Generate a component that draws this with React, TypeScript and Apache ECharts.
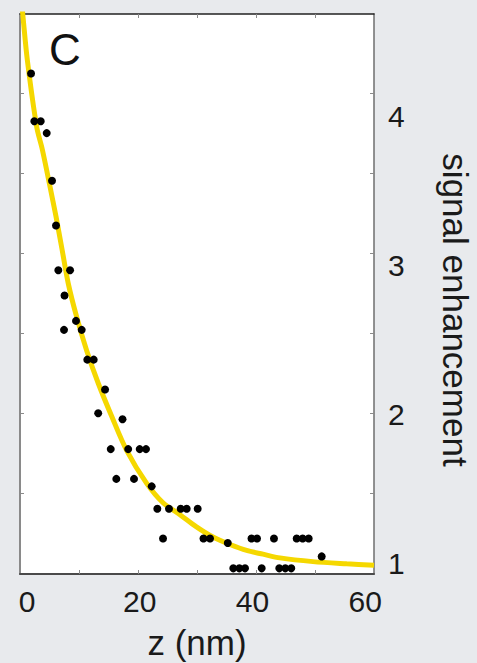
import React, { useEffect, useRef } from "react";
import * as echarts from "echarts";

// Scatter measurements: depth z (nm) and signal enhancement
const pointZ = [
  0.71, 1.29, 2.43, 3.49, 4.43, 5.14, 5.55, 7.63, 6.65, 8.69, 6.56, 9.7,
  10.7, 11.83, 13.84, 12.63, 16.94, 14.85, 17.95, 19.99, 21.11, 15.84, 18.98,
  22.12, 23.12, 25.19, 27.27, 28.33, 30.28, 24.13, 31.31, 32.47, 35.62, 36.6,
  37.67, 38.68, 39.83, 40.81, 41.64, 43.82, 44.76, 45.83, 46.89, 47.85, 48.91,
  49.98, 52.29,
];
const pointSignal = [
  4.29, 3.97, 3.97, 3.89, 3.57, 3.27, 2.97, 2.97, 2.8, 2.63, 2.57, 2.57,
  2.37, 2.37, 2.17, 2.01, 1.97, 1.77, 1.77, 1.77, 1.77, 1.57, 1.57,
  1.52, 1.37, 1.37, 1.37, 1.37, 1.37, 1.17, 1.17, 1.17, 1.14, 0.97,
  0.97, 0.97, 1.17, 1.17, 0.97, 1.17, 0.97, 0.97, 0.97, 1.17, 1.17,
  1.17, 1.05,
];

// Fitted curve
const fitZ = [
  -1.25, -0.77, 0.05, 1.72, 2.71, 4.08, 5.14, 6.21, 7.32, 8.78, 10.59, 12.65,
  15.02, 17.69, 21.23, 24.13, 27.14, 30.0, 33.0, 36.02, 38.98, 41.87, 44.89,
  50.74, 56.72, 61.57,
];
const fitSignal = [
  4.87, 4.69, 4.38, 3.93, 3.78, 3.53, 3.33, 3.11, 2.88, 2.66, 2.43, 2.21,
  1.99, 1.76, 1.54, 1.41, 1.33, 1.25, 1.18, 1.13, 1.09, 1.065, 1.04,
  1.015, 1.0, 0.99,
];

const xTickLabels = [0, 20, 40, 60];
const yTickLabels = [1, 2, 3, 4];
const xTickMarks = [9.22, 19.69, 30.15, 40.62, 51.1];
const yTickMarks = [1.476, 2.012, 2.549, 3.085, 3.622, 4.158];

const panelLabel = "C";
const xName = "z (nm)";
const yName = "signal enhancement";

const X_MIN = -1.25;
const X_MAX = 61.57;
const Y_MIN = 0.932;
const Y_MAX = 4.689;

const FONT = "'Liberation Sans', Arial, Helvetica, sans-serif";

export default function App() {
  const ref = useRef<HTMLDivElement>(null);

  useEffect(() => {
    if (!ref.current) return;
    const chart = echarts.init(ref.current, undefined, { renderer: "svg" });

    const points = pointZ.map((z, i) => [z, pointSignal[i]]);
    const fit = fitZ.map((z, i) => [z, fitSignal[i]]);

    const tickStyle = { color: "#8a8a8a", width: 1 };

    chart.setOption({
      animation: false,
      backgroundColor: "#e8eaed",
      grid: {
        left: 20,
        right: 103,
        top: 14,
        bottom: 89,
        show: true,
        backgroundColor: "#ffffff",
        borderWidth: 0,
        containLabel: false,
        outerBoundsMode: "none",
      },
      xAxis: [
        {
          type: "value",
          position: "bottom",
          min: X_MIN,
          max: X_MAX,
          axisLine: { show: true, onZero: false, lineStyle: { color: "#4a4a4a", width: 2 } },
          axisTick: { show: true, inside: true, length: 4, customValues: xTickMarks, lineStyle: tickStyle },
          axisLabel: {
            show: true,
            customValues: xTickLabels,
            fontSize: 30,
            color: "#1a1a1a",
            margin: 12,
            fontFamily: FONT,
          },
          splitLine: { show: false },
          name: xName,
          nameLocation: "middle",
          nameGap: 51,
          nameTextStyle: { fontSize: 35, color: "#1a1a1a", fontFamily: FONT },
        },
        {
          type: "value",
          position: "top",
          min: X_MIN,
          max: X_MAX,
          axisLine: { show: true, onZero: false, lineStyle: { color: "#222222", width: 1.5 } },
          axisTick: { show: true, inside: true, length: 4, customValues: xTickMarks, lineStyle: tickStyle },
          axisLabel: { show: false },
          splitLine: { show: false },
        },
      ],
      yAxis: [
        {
          type: "value",
          position: "right",
          min: Y_MIN,
          max: Y_MAX,
          axisLine: { show: true, onZero: false, lineStyle: { color: "#6e6e6e", width: 1.5 } },
          axisTick: { show: true, inside: true, length: 4, customValues: yTickMarks, lineStyle: tickStyle },
          axisLabel: {
            show: true,
            customValues: yTickLabels,
            fontSize: 30,
            color: "#1a1a1a",
            margin: 14,
            fontFamily: FONT,
          },
          splitLine: { show: false },
          name: yName,
          nameLocation: "middle",
          nameRotate: -90,
          nameGap: 64,
          nameTextStyle: { fontSize: 35, color: "#1a1a1a", fontFamily: FONT, padding: [0, 0, 0, 32] },
        },
        {
          type: "value",
          position: "left",
          min: Y_MIN,
          max: Y_MAX,
          axisLine: { show: true, onZero: false, lineStyle: { color: "#8a8a8a", width: 2 } },
          axisTick: { show: true, inside: true, length: 4, customValues: yTickMarks, lineStyle: tickStyle },
          axisLabel: { show: false },
          splitLine: { show: false },
        },
      ],
      graphic: [
        {
          type: "text",
          x: 65,
          y: 49.5,
          z: 10,
          style: {
            text: panelLabel,
            fontSize: 44,
            fill: "#111111",
            fontFamily: FONT,
            align: "center",
            verticalAlign: "middle",
          },
        },
      ],
      series: [
        {
          type: "line",
          xAxisIndex: 0,
          yAxisIndex: 0,
          data: fit,
          smooth: 0.3,
          showSymbol: false,
          symbol: "none",
          clip: true,
          lineStyle: { color: "#f5d800", width: 5 },
          z: 2,
        },
        {
          type: "scatter",
          xAxisIndex: 0,
          yAxisIndex: 0,
          data: points,
          symbol: "circle",
          symbolSize: 8,
          itemStyle: { color: "#000000", opacity: 1 },
          z: 3,
        },
      ],
    });

    return () => chart.dispose();
  }, []);

  return (
    <div
      ref={ref}
      style={{ position: "fixed", left: 0, top: 0, width: 477, height: 663 }}
    />
  );
}
